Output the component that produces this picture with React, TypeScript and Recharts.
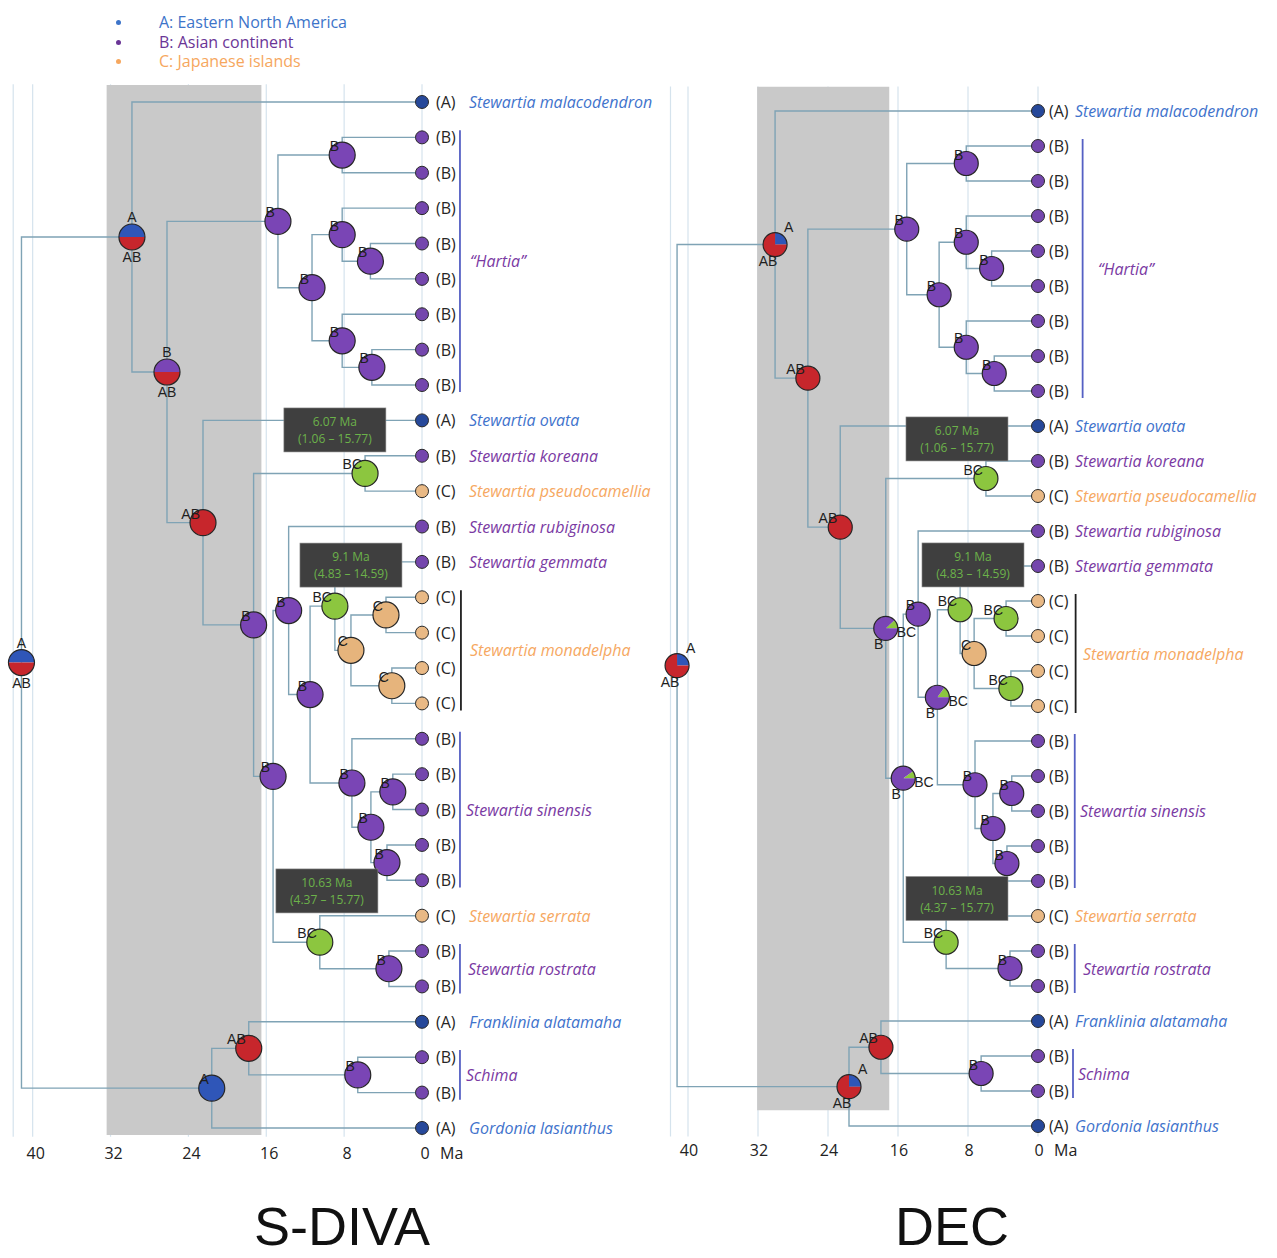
import React from "react";
import {
  ComposedChart,
  Line,
  Scatter,
  XAxis,
  YAxis,
  CartesianGrid,
  ReferenceArea,
  ReferenceLine,
  Sector,
} from "recharts";

// tips, top to bottom
const TIP_NAMES = [
  "Stewartia malacodendron",
  "", "", "", "", "", "", "", "",
  "Stewartia ovata",
  "Stewartia koreana",
  "Stewartia pseudocamellia",
  "Stewartia rubiginosa",
  "Stewartia gemmata",
  "", "", "", "",
  "", "", "", "", "",
  "Stewartia serrata",
  "", "",
  "Franklinia alatamaha",
  "", "",
  "Gordonia lasianthus",
];

const TIP_AREAS = [
  "A", "B", "B", "B", "B", "B", "B", "B", "B", "A", "B", "C", "B", "B", "C",
  "C", "C", "C", "B", "B", "B", "B", "B", "C", "B", "B", "A", "B", "B", "A",
];

const GROUPS = [
  { label: "\u201CHartia\u201D", from: 1, to: 8, area: "B" },
  { label: "Stewartia monadelpha", from: 14, to: 17, area: "C" },
  { label: "Stewartia sinensis", from: 18, to: 22, area: "B" },
  { label: "Stewartia rostrata", from: 24, to: 25, area: "B" },
  { label: "Schima", from: 27, to: 28, area: "B" },
];

// internal nodes -> children
const CLADES: [string, string[]][] = [
  ["root", ["stew", "gord"]],
  ["stew", ["t0", "b1"]],
  ["b1", ["hartia", "ab2"]],
  ["hartia", ["h1", "h2"]],
  ["h1", ["t1", "t2"]],
  ["h2", ["h3", "h5"]],
  ["h3", ["t3", "h4"]],
  ["h4", ["t4", "t5"]],
  ["h5", ["t6", "h6"]],
  ["h6", ["t7", "t8"]],
  ["ab2", ["t9", "b3"]],
  ["b3", ["kor", "b4"]],
  ["kor", ["t10", "t11"]],
  ["b4", ["b5", "ser"]],
  ["b5", ["t12", "b6"]],
  ["b6", ["bc7", "sin"]],
  ["bc7", ["t13", "mon"]],
  ["mon", ["mon1", "mon2"]],
  ["mon1", ["t14", "t15"]],
  ["mon2", ["t16", "t17"]],
  ["sin", ["t18", "sin2"]],
  ["sin2", ["sin3", "sin4"]],
  ["sin3", ["t19", "t20"]],
  ["sin4", ["t21", "t22"]],
  ["ser", ["t23", "ros"]],
  ["ros", ["t24", "t25"]],
  ["gord", ["fr", "t29"]],
  ["fr", ["t26", "sch"]],
  ["sch", ["t27", "t28"]],
];

// node ages (Ma)
const SDIVA_AGES: Record<string, number> = {
  root: 41.15, stew: 29.8, b1: 26.2, hartia: 14.8, h1: 8.2, h2: 11.3, h3: 8.2,
  h4: 5.3, h5: 8.2, h6: 5.15, ab2: 22.5, b3: 17.3, kor: 5.85, b4: 15.3,
  b5: 13.7, b6: 11.5, bc7: 8.95, mon: 7.3, mon1: 3.7, mon2: 3.1, sin: 7.2,
  sin2: 5.25, sin3: 3.0, sin4: 3.6, ser: 10.5, ros: 3.4, gord: 21.6, fr: 17.8,
  sch: 6.6,
};

const DEC_AGES: Record<string, number> = {
  root: 41.25, stew: 30.05, b1: 26.3, hartia: 15.0, h1: 8.2, h2: 11.3, h3: 8.2,
  h4: 5.3, h5: 8.2, h6: 5.0, ab2: 22.6, b3: 17.4, kor: 5.95, b4: 15.4,
  b5: 13.7, b6: 11.5, bc7: 8.9, mon: 7.3, mon1: 3.65, mon2: 3.1, sin: 7.2,
  sin2: 5.15, sin3: 3.0, sin4: 3.55, ser: 10.5, ros: 3.2, gord: 21.6, fr: 17.95,
  sch: 6.5,
};

// ancestral ranges: single letter = 100%, otherwise [range, share]
const SDIVA_STATES: Record<string, [string, number][] | string> = {
  root: [["A", 0.5], ["AB", 0.5]],
  stew: [["A", 0.5], ["AB", 0.5]],
  b1: [["B", 0.5], ["AB", 0.5]],
  hartia: "B", h1: "B", h2: "B", h3: "B", h4: "B", h5: "B", h6: "B",
  ab2: "AB", b3: "B", kor: "BC", b4: "B", b5: "B", b6: "B", bc7: "BC",
  mon: "C", mon1: "C", mon2: "C", sin: "B", sin2: "B", sin3: "B", sin4: "B",
  ser: "BC", ros: "B", gord: "A", fr: "AB", sch: "B",
};

const DEC_STATES: Record<string, [string, number][] | string> = {
  root: [["A", 0.25], ["AB", 0.75]],
  stew: [["A", 0.25], ["AB", 0.75]],
  b1: "AB",
  hartia: "B", h1: "B", h2: "B", h3: "B", h4: "B", h5: "B", h6: "B",
  ab2: "AB",
  b3: [["BC", 0.12], ["B", 0.88]],
  kor: "BC",
  b4: [["BC", 0.1], ["B", 0.9]],
  b5: "B",
  b6: [["BC", 0.15], ["B", 0.85]],
  bc7: "BC", mon: "C", mon1: "BC", mon2: "BC",
  sin: "B", sin2: "B", sin3: "B", sin4: "B",
  ser: "BC", ros: "B",
  gord: [["A", 0.25], ["AB", 0.75]],
  fr: "AB", sch: "B",
};

const SDIVA_LABELS: Record<string, [string, string][]> = {
  root: [["A", "top"], ["AB", "bottom"]],
  stew: [["A", "top"], ["AB", "bottom"]],
  b1: [["B", "top"], ["AB", "bottom"]],
};

const DEC_LABELS: Record<string, [string, string][]> = {
  root: [["A", "tr"], ["AB", "bl"]],
  stew: [["A", "tr"], ["AB", "bl"]],
  gord: [["A", "tr"], ["AB", "bl"]],
  b3: [["B", "bl"], ["BC", "r"]],
  b4: [["B", "bl"], ["BC", "r"]],
  b6: [["B", "bl"], ["BC", "r"]],
};

const DATE_LINES = [
  ["6.07 Ma", "(1.06 \u2013 15.77)"],
  ["9.1 Ma", "(4.83 \u2013 14.59)"],
  ["10.63 Ma", "(4.37 \u2013 15.77)"],
];

const X_TICKS = [0, 8, 16, 24, 32, 40];

const LEGEND = [
  { text: "A: Eastern North America", color: "#3d74c9" },
  { text: "B: Asian continent", color: "#6a3596" },
  { text: "C: Japanese islands", color: "#f6a75e" },
];

const NODE_FILL: Record<string, string> = {
  A: "#2f56b8",
  B: "#7a45b5",
  C: "#e6b47c",
  AB: "#c7262c",
  BC: "#8cc63f",
};
const TIP_FILL: Record<string, string> = { A: "#26489a", B: "#7446ad", C: "#e9b985" };
const NAME_COLOR: Record<string, string> = { A: "#3f73cc", B: "#7a3aa3", C: "#f6a862" };
const BRANCH = "#7fa3b5";
const SANS = "'Open Sans', sans-serif";
const ARIAL = "'Liberation Sans', Arial, sans-serif";

type Panel = {
  left: number;
  width: number;
  plotLeft: number;
  plotRight: number;
  top: number;
  bottom: number;
  yDomain: [number, number];
  grey: [number, number, number, number];
  nodeR: number;
  tipR: number;
  abbrDx: number;
  nameDx: number;
  groupDx: number[];
  bracketX: number[];
  boxes: [number, number][];
  tickDy: number;
  tickDx: number;
};

const LEFT_PANEL: Panel = {
  left: 0, width: 657, plotLeft: 13.2, plotRight: 422, top: 84.3, bottom: 1136.8,
  yDomain: [-0.5, 29.25], grey: [32.4, 16.5, -0.48, 29.2],
  nodeR: 13, tipR: 6.5, abbrDx: 14, nameDx: 47,
  groupDx: [48, 48, 44, 46, 44], bracketX: [-3.9, -4.0, -3.9, -3.9, -3.9],
  boxes: [[8.95, 9.27], [7.3, 13.09], [9.77, 22.3]], tickDy: 14, tickDx: 3,
};

const RIGHT_PANEL: Panel = {
  left: 640, width: 637, plotLeft: 30.5, plotRight: 398, top: 86.5, bottom: 1136.5,
  yDomain: [-0.7, 29.3], grey: [32.1, 17.0, -0.69, 28.55],
  nodeR: 12, tipR: 6.5, abbrDx: 11, nameDx: 37,
  groupDx: [60, 45, 42, 45, 40], bracketX: [-5.1, -4.3, -4.2, -4.2, -4.0],
  boxes: [[9.26, 9.37], [7.43, 12.97], [9.26, 22.5]], tickDy: 11, tickDx: 1,
};

const TITLES = [
  { text: "S-DIVA", center: 342 },
  { text: "DEC", center: 952 },
];

function labelPos(pos: string, cx: number, cy: number, r: number) {
  switch (pos) {
    case "top": return { x: cx, y: cy - r - 2, anchor: "middle" };
    case "bottom": return { x: cx, y: cy + r + 12, anchor: "middle" };
    case "tr": return { x: cx + 9, y: cy - 13, anchor: "start" };
    case "bl": return { x: cx - 7, y: cy + 21, anchor: "middle" };
    case "r": return { x: cx + 11, y: cy + 9, anchor: "start" };
    default: return { x: cx - 3, y: cy - 4, anchor: "end" };
  }
}

function TreePanel({
  cfg, ages, states, labels,
}: {
  cfg: Panel;
  ages: Record<string, number>;
  states: Record<string, [string, number][] | string>;
  labels: Record<string, [string, string][]>;
}) {
  const ypos: Record<string, number> = {};
  const age: Record<string, number> = {};
  TIP_NAMES.forEach((_, i) => {
    ypos["t" + i] = i;
    age["t" + i] = 0;
  });
  const kids = new Map(CLADES);
  const getY = (id: string): number => {
    if (id in ypos) return ypos[id];
    const [a, b] = kids.get(id)!;
    ypos[id] = (getY(a) + getY(b)) / 2;
    return ypos[id];
  };
  CLADES.forEach(([id]) => {
    getY(id);
    age[id] = ages[id];
  });

  const branches = CLADES.flatMap(([id, ch]) =>
    ch.map((c) => ({
      key: id + "-" + c,
      pts: [
        { x: age[id], y: ypos[id] },
        { x: age[id], y: ypos[c] },
        { x: age[c], y: ypos[c] },
      ],
    }))
  );

  const nodes = CLADES.map(([id]) => {
    const st = states[id];
    const slices: [string, number][] = typeof st === "string" ? [[st, 1]] : st;
    const lab = labels[id] || [[typeof st === "string" ? st : st[0][0], "tl"]];
    return { x: age[id], y: ypos[id], slices, lab };
  });

  const tips = TIP_NAMES.map((name, i) => ({ x: 0, y: i, name, area: TIP_AREAS[i] }));
  const groups = GROUPS.map((g, i) => ({ x: 0, y: (g.from + g.to) / 2, ...g, dx: cfg.groupDx[i] }));
  const boxes = DATE_LINES.map((d, i) => ({ x: cfg.boxes[i][0], y: cfg.boxes[i][1], l1: d[0], l2: d[1] }));

  const nodeShape = (p: any) => {
    const { cx, cy, payload } = p;
    const r = cfg.nodeR;
    let start = 0;
    return (
      <g>
        {payload.slices.length === 1 ? (
          <circle cx={cx} cy={cy} r={r} fill={NODE_FILL[payload.slices[0][0]]} />
        ) : (
          payload.slices.map(([a, f]: [string, number], i: number) => {
            const s = start;
            start += f * 360;
            return (
              <Sector key={i} cx={cx} cy={cy} innerRadius={0} outerRadius={r}
                startAngle={s} endAngle={s + f * 360} fill={NODE_FILL[a]} stroke="none" />
            );
          })
        )}
        <circle cx={cx} cy={cy} r={r} fill="none" stroke="#262626" strokeWidth={1.2} />
        {payload.lab.map(([t, pos]: [string, string], i: number) => {
          const lp = labelPos(pos, cx, cy, r);
          return (
            <text key={i} x={lp.x} y={lp.y} textAnchor={lp.anchor as any}
              fontSize={14} fontFamily={ARIAL} fill="#1e1e1e">{t}</text>
          );
        })}
      </g>
    );
  };

  const tipShape = (p: any) => {
    const { cx, cy, payload } = p;
    return (
      <g>
        <circle cx={cx} cy={cy} r={cfg.tipR} fill={TIP_FILL[payload.area]} stroke="#2a2a2a" strokeWidth={1} />
        <text x={cx + cfg.abbrDx} y={cy + 6} fontSize={16} fontFamily={SANS} fill="#262626">
          ({payload.area})
        </text>
        {payload.name && (
          <text x={cx + cfg.nameDx} y={cy + 6} fontSize={16} fontStyle="italic"
            fontFamily={SANS} fill={NAME_COLOR[payload.area]}>{payload.name}</text>
        )}
      </g>
    );
  };

  const groupShape = (p: any) => {
    const { cx, cy, payload } = p;
    return (
      <text x={cx + payload.dx} y={cy + 6} fontSize={16} fontStyle="italic"
        fontFamily={SANS} fill={NAME_COLOR[payload.area]}>{payload.label}</text>
    );
  };

  const boxShape = (p: any) => {
    const { cx, cy, payload } = p;
    return (
      <g>
        <rect x={cx - 51} y={cy - 22} width={102} height={44} fill="#3f3f3f" stroke="#8c8c8c" strokeWidth={0.6} />
        <text x={cx} y={cy - 4} textAnchor="middle" fontSize={12} fontFamily={SANS} fill="#6cb24a">{payload.l1}</text>
        <text x={cx} y={cy + 13} textAnchor="middle" fontSize={12} fontFamily={SANS} fill="#6cb24a">{payload.l2}</text>
      </g>
    );
  };

  const axisTick = (p: any) => {
    const { x, y, payload } = p;
    return (
      <g>
        <text x={x + cfg.tickDx} y={y + cfg.tickDy} textAnchor="middle" fontSize={16} fontFamily={SANS} fill="#222">
          {payload.value}
        </text>
        {payload.value === 0 && (
          <text x={x + cfg.tickDx + 15} y={y + cfg.tickDy} fontSize={16} fontFamily={SANS} fill="#222">Ma</text>
        )}
      </g>
    );
  };

  const axisH = 30;
  return (
    <div style={{ position: "absolute", left: cfg.left, top: 0, width: cfg.width, height: 1190, overflow: "hidden" }}>
      <ComposedChart
        width={cfg.width}
        height={1190}
        margin={{
          top: cfg.top,
          right: cfg.width - cfg.plotRight,
          bottom: 1190 - cfg.bottom - axisH,
          left: cfg.plotLeft,
        }}
      >
        <XAxis type="number" dataKey="x" domain={[0, 42]} reversed ticks={X_TICKS} interval={0}
          axisLine={false} tickLine={false} height={axisH} tick={axisTick} />
        <YAxis type="number" dataKey="y" domain={cfg.yDomain} reversed hide />
        <ReferenceArea x1={cfg.grey[0]} x2={cfg.grey[1]} y1={cfg.grey[2]} y2={cfg.grey[3]}
          fill="#c9c9c9" fillOpacity={1} stroke="none" />
        <CartesianGrid horizontal={false} stroke="#d5e3ed" strokeWidth={1.2} />
        {branches.map((b) => (
          <Line key={b.key} data={b.pts} dataKey="y" type="linear" stroke={BRANCH} strokeWidth={1.4}
            dot={false} activeDot={false} isAnimationActive={false} legendType="none" />
        ))}
        {GROUPS.map((g, i) => (
          <ReferenceLine key={g.label} ifOverflow="visible"
            segment={[{ x: cfg.bracketX[i], y: g.from - 0.2 }, { x: cfg.bracketX[i], y: g.to + 0.2 }]}
            stroke={g.area === "C" ? "#1f1f1f" : "#5560c4"} strokeWidth={1.8} />
        ))}
        <Scatter data={tips} shape={tipShape} isAnimationActive={false} />
        <Scatter data={nodes} shape={nodeShape} isAnimationActive={false} />
        <Scatter data={groups} shape={groupShape} isAnimationActive={false} />
        <Scatter data={boxes} shape={boxShape} isAnimationActive={false} />
      </ComposedChart>
    </div>
  );
}

export default function App() {
  return (
    <div style={{ position: "absolute", left: 0, top: 0, width: 1277, height: 1258, background: "#fff", overflow: "hidden" }}>
      <TreePanel cfg={LEFT_PANEL} ages={SDIVA_AGES} states={SDIVA_STATES} labels={SDIVA_LABELS} />
      <TreePanel cfg={RIGHT_PANEL} ages={DEC_AGES} states={DEC_STATES} labels={DEC_LABELS} />
      {TITLES.map((t) => (
        <div
          key={t.text}
          style={{
            position: "absolute",
            top: 1199,
            left: t.center - 150,
            width: 300,
            textAlign: "center",
            fontFamily: ARIAL,
            fontSize: 54,
            lineHeight: "54px",
            color: "#111",
          }}
        >
          {t.text}
        </div>
      ))}
      <div style={{ position: "absolute", left: 116, top: 13, fontFamily: SANS, fontSize: 16, lineHeight: "19.5px" }}>
        {LEGEND.map((l) => (
          <div key={l.text} style={{ display: "flex", alignItems: "center", color: l.color }}>
            <span style={{ width: 5, height: 5, borderRadius: 3, background: l.color, marginRight: 38 }} />
            {l.text}
          </div>
        ))}
      </div>
    </div>
  );
}
